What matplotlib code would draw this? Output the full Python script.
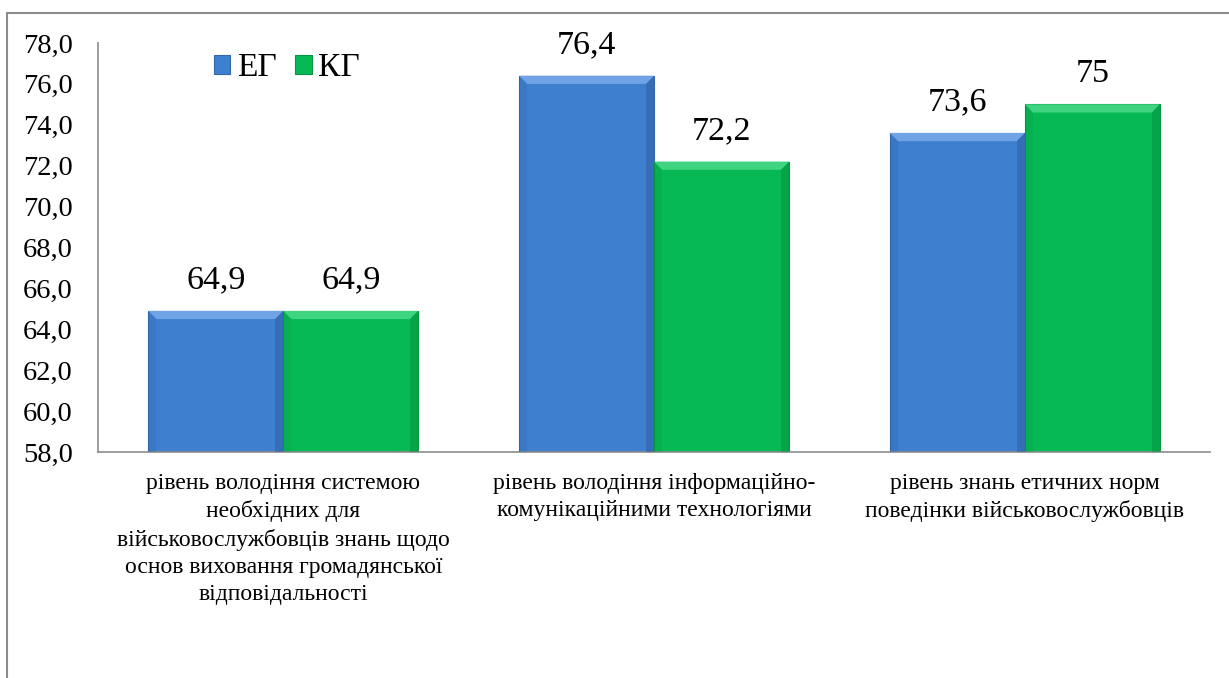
import numpy as np
import matplotlib.pyplot as plt
from matplotlib.patches import Rectangle, Polygon

# Дані з діаграми
categories = [
    "рівень володіння системою\nнеобхідних для\nвійськовослужбовців знань щодо\nоснов виховання громадянської\nвідповідальності",
    "рівень володіння інформаційно-\nкомунікаційними технологіями",
    "рівень знань етичних норм\nповедінки військовослужбовців",
]
eg = [64.9, 76.4, 73.6]
kg = [64.9, 72.2, 75.0]
eg_labels = ["64,9", "76,4", "73,6"]
kg_labels = ["64,9", "72,2", "75"]
yticks = np.arange(58, 78.1, 2)

plt.rcParams['font.family'] = ['Liberation Serif', 'DejaVu Serif']

fig = plt.figure(figsize=(12.29, 6.78), dpi=100)
ax = fig.add_axes([0.0797, 0.3333, 0.905, 0.6033])

# рамка навколо діаграми
fig.patches.append(Rectangle((7 / 1229, -0.1), 1.2, 0.1 + 1 - 13 / 678,
                             transform=fig.transFigure, fill=False,
                             edgecolor='#8c8c8c', linewidth=1.5))

x = np.arange(len(categories))
w = 0.364
blue = '#3f7fd0'
green = '#07b955'

b1 = ax.bar(x - w / 2, eg, w, bottom=0, color=blue, edgecolor='#3568a8',
            linewidth=0.8, label='ЕГ', zorder=2)
b2 = ax.bar(x + w / 2, kg, w, bottom=0, color=green, edgecolor='#069544',
            linewidth=0.8, label='КГ', zorder=2)


# імітація фаски (bevel) на стовпчиках
def bevel(bars, light, dark):
    for r in bars:
        x0, w0 = r.get_x(), r.get_width()
        top = r.get_height()
        bot = 58
        dx = w0 * 0.06
        dy = 0.4
        ax.add_patch(Polygon([[x0, top], [x0 + w0, top], [x0 + w0 - dx, top - dy],
                              [x0 + dx, top - dy]], closed=True, color=light,
                             linewidth=0, zorder=3))
        ax.add_patch(Polygon([[x0 + w0, top], [x0 + w0, bot], [x0 + w0 - dx, bot],
                              [x0 + w0 - dx, top - dy]], closed=True, color=dark,
                             linewidth=0, alpha=0.45, zorder=3))
        ax.add_patch(Polygon([[x0, top], [x0, bot], [x0 + dx, bot],
                              [x0 + dx, top - dy]], closed=True, color=dark,
                             linewidth=0, alpha=0.2, zorder=3))


bevel(b1, '#6fa3e6', '#2a5a98')
bevel(b2, '#3fd47f', '#058a3c')

for xi, v, t in zip(x - w / 2, eg, eg_labels):
    ax.text(xi, v + 0.75, t, ha='center', va='bottom', fontsize=24.5)
for xi, v, t in zip(x + w / 2, kg, kg_labels):
    ax.text(xi, v + 0.75, t, ha='center', va='bottom', fontsize=24.5)

ax.set_xlim(-0.5, 2.5)
ax.set_ylim(58, 78)
ax.set_yticks(yticks)
ax.set_yticklabels([f"{v:.1f}".replace('.', ',') for v in yticks], fontsize=20.5)
ax.set_xticks(x)
ax.set_xticklabels(categories, fontsize=17, linespacing=1.38)
ax.tick_params(axis='x', length=0, pad=15)
ax.tick_params(axis='y', length=0, pad=18)

for s in ['top', 'right']:
    ax.spines[s].set_visible(False)
ax.spines['left'].set_color('#8c8c8c')
ax.spines['bottom'].set_color('#8c8c8c')
ax.spines['left'].set_linewidth(1.2)
ax.spines['bottom'].set_linewidth(1.2)

ax.legend(loc='upper left', bbox_to_anchor=(0.077, 1.05), ncol=2, frameon=False,
          fontsize=24, handlelength=0.5, handleheight=0.5, handletextpad=0.2,
          columnspacing=0.55)

fig.savefig('out.png', dpi=100)
